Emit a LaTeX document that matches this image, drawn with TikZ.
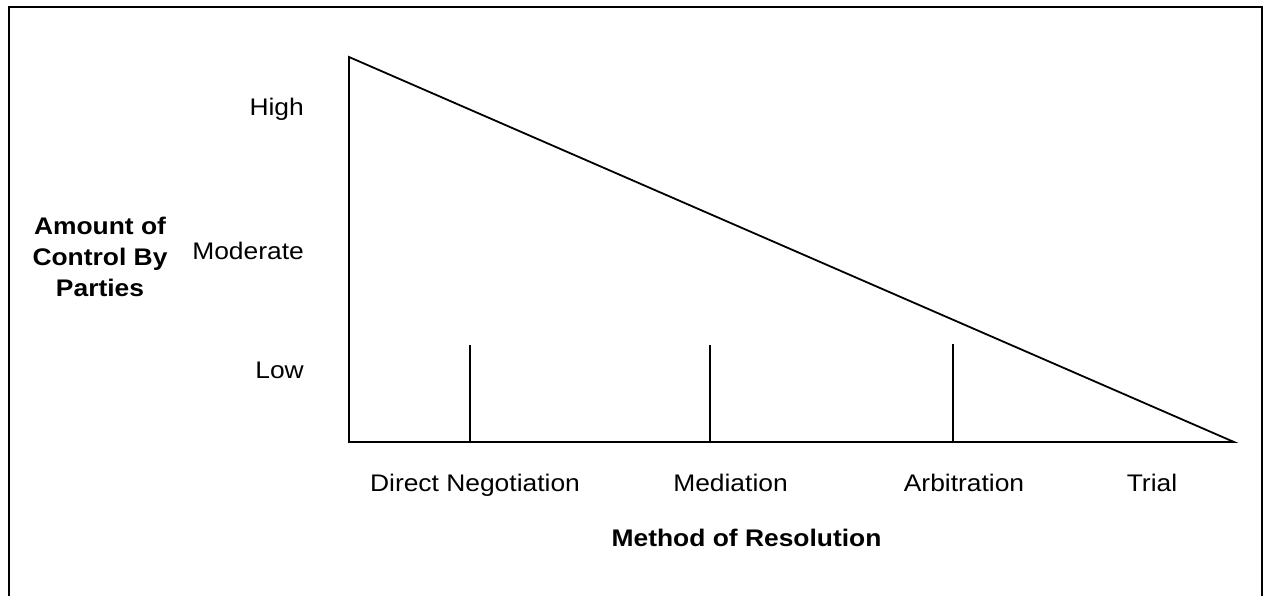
\documentclass[tikz,border=0pt]{standalone}
\usepackage{fontspec}
\setmainfont{Liberation Sans}[FakeStretch=1.1]
\begin{document}
\begin{tikzpicture}[x=1pt,y=1pt,
  lbl/.style={inner sep=0pt,font=\fontsize{24}{29}\selectfont},
  ttl/.style={inner sep=0pt,font=\fontsize{24}{31}\selectfont\bfseries,align=center},
  edge/.style={line width=1.8pt,line join=miter},
  tick/.style={line width=1.4pt}]
\useasboundingbox (0,0) rectangle (1263,596);
\clip (0,0) rectangle (1263,596);
% frame
\draw[line width=1.8pt] (9,-20) -- (9,589) -- (1262,589) -- (1262,-20);
% triangle
\coordinate (apex) at (349,539);
\coordinate (orig) at (349,154);
\coordinate (endp) at (1234,154);
\draw[edge] (apex) -- (orig) -- (endp) -- cycle;
% ticks
\coordinate (t1b) at (470,154); \coordinate (t1t) at (470,251);
\coordinate (t2b) at (710,154); \coordinate (t2t) at (710,251);
\coordinate (t3b) at (953,154); \coordinate (t3t) at (953,252);
\draw[tick] (t1b) -- (t1t);
\draw[tick] (t2b) -- (t2t);
\draw[tick] (t3b) -- (t3t);
% y labels
\node[lbl,anchor=base east] (high) at (304,480) {High};
\node[lbl,anchor=base east] (mod) at (304,336) {Moderate};
\node[lbl,anchor=base east] (low) at (304,217) {Low};
% x labels
\node[lbl,anchor=base] (dn) at (475,104) {Direct Negotiation};
\node[lbl,anchor=base] (med) at (730.5,104) {Mediation};
\node[lbl,anchor=base] (arb) at (964,104) {Arbitration};
\node[lbl,anchor=base] (trial) at (1152,104) {Trial};
% titles
\node[ttl,anchor=base] (ytitle) at (100,299) {Amount of\\Control By\\Parties};
\node[ttl,anchor=base] (xtitle) at (746.5,49) {Method of Resolution};
\end{tikzpicture}
\end{document}
